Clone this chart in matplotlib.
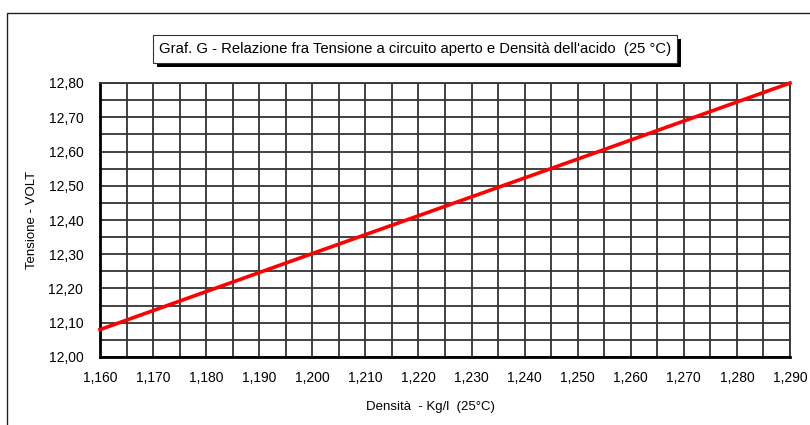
import matplotlib
matplotlib.use('Agg')
import matplotlib.pyplot as plt
from matplotlib.patches import Rectangle
from matplotlib.ticker import MultipleLocator, FuncFormatter

plt.rcParams['font.family'] = ['Liberation Sans', 'DejaVu Sans']

# data
density = [1.160, 1.200, 1.250, 1.290]
voltage = [12.080, 12.302, 12.578, 12.800]

TITLE = "Graf. G - Relazione fra Tensione a circuito aperto e Densità dell'acido  (25 °C)"
XLABEL = "Densità  - Kg/l  (25°C)"
YLABEL = "Tensione - VOLT"

W, H = 810, 425
fig = plt.figure(figsize=(W / 100, H / 100), dpi=100)


def fx(px):
    return px / W


def fy(py):
    return 1 - py / H


# outer frame
fig.patches.append(Rectangle((fx(7), fy(440)), fx(820), fy(13) - fy(440),
                             transform=fig.transFigure, fill=False,
                             edgecolor='#222222', linewidth=1.0))

# title box with shadow
bx0, bx1, by0, by1 = 153, 677, 35, 63
fig.patches.append(Rectangle((fx(bx0 + 4), fy(by1 + 4)), fx(bx1 - bx0), fy(by0) - fy(by1),
                             transform=fig.transFigure, facecolor='black',
                             edgecolor='black', linewidth=0))
fig.patches.append(Rectangle((fx(bx0), fy(by1)), fx(bx1 - bx0), fy(by0) - fy(by1),
                             transform=fig.transFigure, facecolor='white',
                             edgecolor='#333333', linewidth=0.8))
fig.text(fx((bx0 + bx1) / 2), fy((by0 + by1) / 2), TITLE, ha='center', va='center',
         fontsize=10.7)

ax = fig.add_axes([fx(100), fy(357), fx(790) - fx(100), fy(83) - fy(357)])
ax.plot(density, voltage, color='#ff0000', linewidth=2.6, zorder=4, clip_on=False)

ax.set_xlim(1.160, 1.290)
ax.set_ylim(12.00, 12.80)
ax.xaxis.set_major_locator(MultipleLocator(0.010))
ax.xaxis.set_minor_locator(MultipleLocator(0.005))
ax.yaxis.set_major_locator(MultipleLocator(0.10))
ax.yaxis.set_minor_locator(MultipleLocator(0.05))
ax.xaxis.set_major_formatter(FuncFormatter(lambda v, p: f'{v:.3f}'.replace('.', ',')))
ax.yaxis.set_major_formatter(FuncFormatter(lambda v, p: f'{v:.2f}'.replace('.', ',')))
ax.grid(which='both', color='#333333', linewidth=1.3)
ax.set_axisbelow(True)
ax.tick_params(which='both', length=0, labelsize=10)
ax.tick_params(axis='x', pad=10)
ax.tick_params(axis='y', pad=12)

for side in ('left', 'bottom'):
    ax.spines[side].set_linewidth(2.0)
    ax.spines[side].set_color('black')
for side in ('top', 'right'):
    ax.spines[side].set_linewidth(1.3)
    ax.spines[side].set_color('#333333')

fig.text(fx(430), fy(407), XLABEL, ha='center', va='center', fontsize=9.5)
fig.text(fx(32), fy(220), YLABEL, ha='center', va='center', rotation=90, fontsize=9.5)

fig.savefig('out.png', dpi=100)
